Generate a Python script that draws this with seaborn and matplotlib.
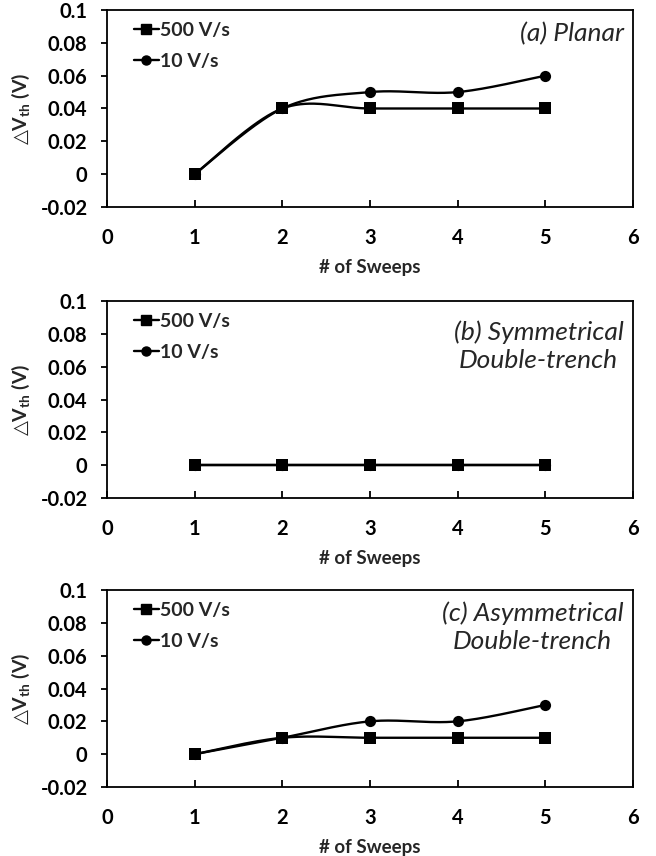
import numpy as np
import pandas as pd
import matplotlib
matplotlib.use('Agg')
import matplotlib.pyplot as plt
from matplotlib.lines import Line2D
import seaborn as sns

# Data
sweeps = [1, 2, 3, 4, 5]
planar_500 = [0, 0.04, 0.04, 0.04, 0.04]
planar_10 = [0, 0.04, 0.05, 0.05, 0.06]
sym_500 = [0, 0, 0, 0, 0]
sym_10 = [0, 0, 0, 0, 0]
asym_500 = [0, 0.01, 0.01, 0.01, 0.01]
asym_10 = [0, 0.01, 0.02, 0.02, 0.03]

panel_titles = ['(a) Planar', '(b) Symmetrical\nDouble-trench', '(c) Asymmetrical\nDouble-trench']
series_labels = ['500 V/s', '10 V/s']
xticks = [0, 1, 2, 3, 4, 5, 6]
yticks = [-0.02, 0, 0.02, 0.04, 0.06, 0.08, 0.1]
ytick_labels = ['-0.02', '0', '0.02', '0.04', '0.06', '0.08', '0.1']

sns.set_style('white')
plt.rcParams['font.family'] = ['Lato', 'DejaVu Sans']
plt.rcParams['mathtext.fontset'] = 'custom'
plt.rcParams['mathtext.rm'] = 'Lato'
plt.rcParams['mathtext.bf'] = 'Lato:bold'
plt.rcParams['mathtext.sf'] = 'DejaVu Sans'


def smooth(x, y, n=40):
    # Excel-style smoothed line (Catmull-Rom through the points)
    x = np.asarray(x, float)
    y = np.asarray(y, float)
    px = np.concatenate([[x[0]], x, [x[-1]]])
    py = np.concatenate([[y[0]], y, [y[-1]]])
    xs, ys = [], []
    for i in range(1, len(x)):
        p0, p1, p2, p3 = (np.array([px[j], py[j]]) for j in range(i - 1, i + 3))
        c1 = p1 + (p2 - p0) / 6
        c2 = p2 - (p3 - p1) / 6
        t = np.linspace(0, 1, n)[:, None]
        pts = (1 - t) ** 3 * p1 + 3 * (1 - t) ** 2 * t * c1 + 3 * (1 - t) * t ** 2 * c2 + t ** 3 * p2
        xs.extend(pts[:, 0])
        ys.extend(pts[:, 1])
    return pd.DataFrame({'x': xs, 'y': ys})


panels = [(planar_500, planar_10), (sym_500, sym_10), (asym_500, asym_10)]
bottoms = [0.7582, 0.4182, 0.0806]
title_y = [0.94, 0.90, 0.94]

fig = plt.figure(figsize=(6.56, 8.56), dpi=100)

for (s500, s10), title, b, ty in zip(panels, panel_titles, bottoms, title_y):
    ax = fig.add_axes([0.1631, b, 0.8018, 0.2301])

    # 10 V/s first so the squares sit on top
    sns.lineplot(data=smooth(sweeps, s10), x='x', y='y', ax=ax, color='black', lw=1.7, sort=False)
    sns.scatterplot(x=sweeps, y=s10, ax=ax, color='black', marker='o', s=65, edgecolor='black', linewidth=0, zorder=3)
    sns.lineplot(data=smooth(sweeps, s500), x='x', y='y', ax=ax, color='black', lw=1.7, sort=False)
    sns.scatterplot(x=sweeps, y=s500, ax=ax, color='black', marker='s', s=65, edgecolor='black', linewidth=0, zorder=4)

    ax.set_xlim(0, 6)
    ax.set_ylim(-0.02, 0.1)
    ax.set_xticks(xticks)
    ax.set_xticklabels([str(v) for v in xticks], fontsize=14.5, fontweight='bold')
    ax.set_yticks(yticks)
    ax.set_yticklabels(ytick_labels, fontsize=14.5, fontweight='bold')
    ax.tick_params(axis='x', direction='in', length=5, width=1.3, pad=15, bottom=True, colors='black')
    ax.tick_params(axis='y', direction='out', length=4, width=1.3, pad=10, left=True, colors='black')
    for sp in ax.spines.values():
        sp.set_color('black')
        sp.set_linewidth(1.3)

    ax.set_xlabel('# of Sweeps', fontsize=13.5, fontweight='bold', labelpad=8)
    ax.set_ylabel('$\\mathsf{△}\\mathbf{V_{th}}$ (V)', fontsize=14, fontweight='bold', labelpad=6)

    handles = [Line2D([], [], color='black', lw=1.7, marker='s', markersize=6.5),
               Line2D([], [], color='black', lw=1.7, marker='o', markersize=6.5)]
    ax.legend(handles, series_labels, loc='upper left', bbox_to_anchor=(0.025, 1.01), frameon=False,
              prop={'weight': 'bold', 'size': 14}, handlelength=1.3, handletextpad=0.05,
              labelspacing=0.75, borderaxespad=0.3)

    ax.text(0.982, ty, title, transform=ax.transAxes, ha='right', va='top', multialignment='center',
            fontsize=19, fontstyle='italic', linespacing=1.25)

fig.savefig('out.png', dpi=100)
